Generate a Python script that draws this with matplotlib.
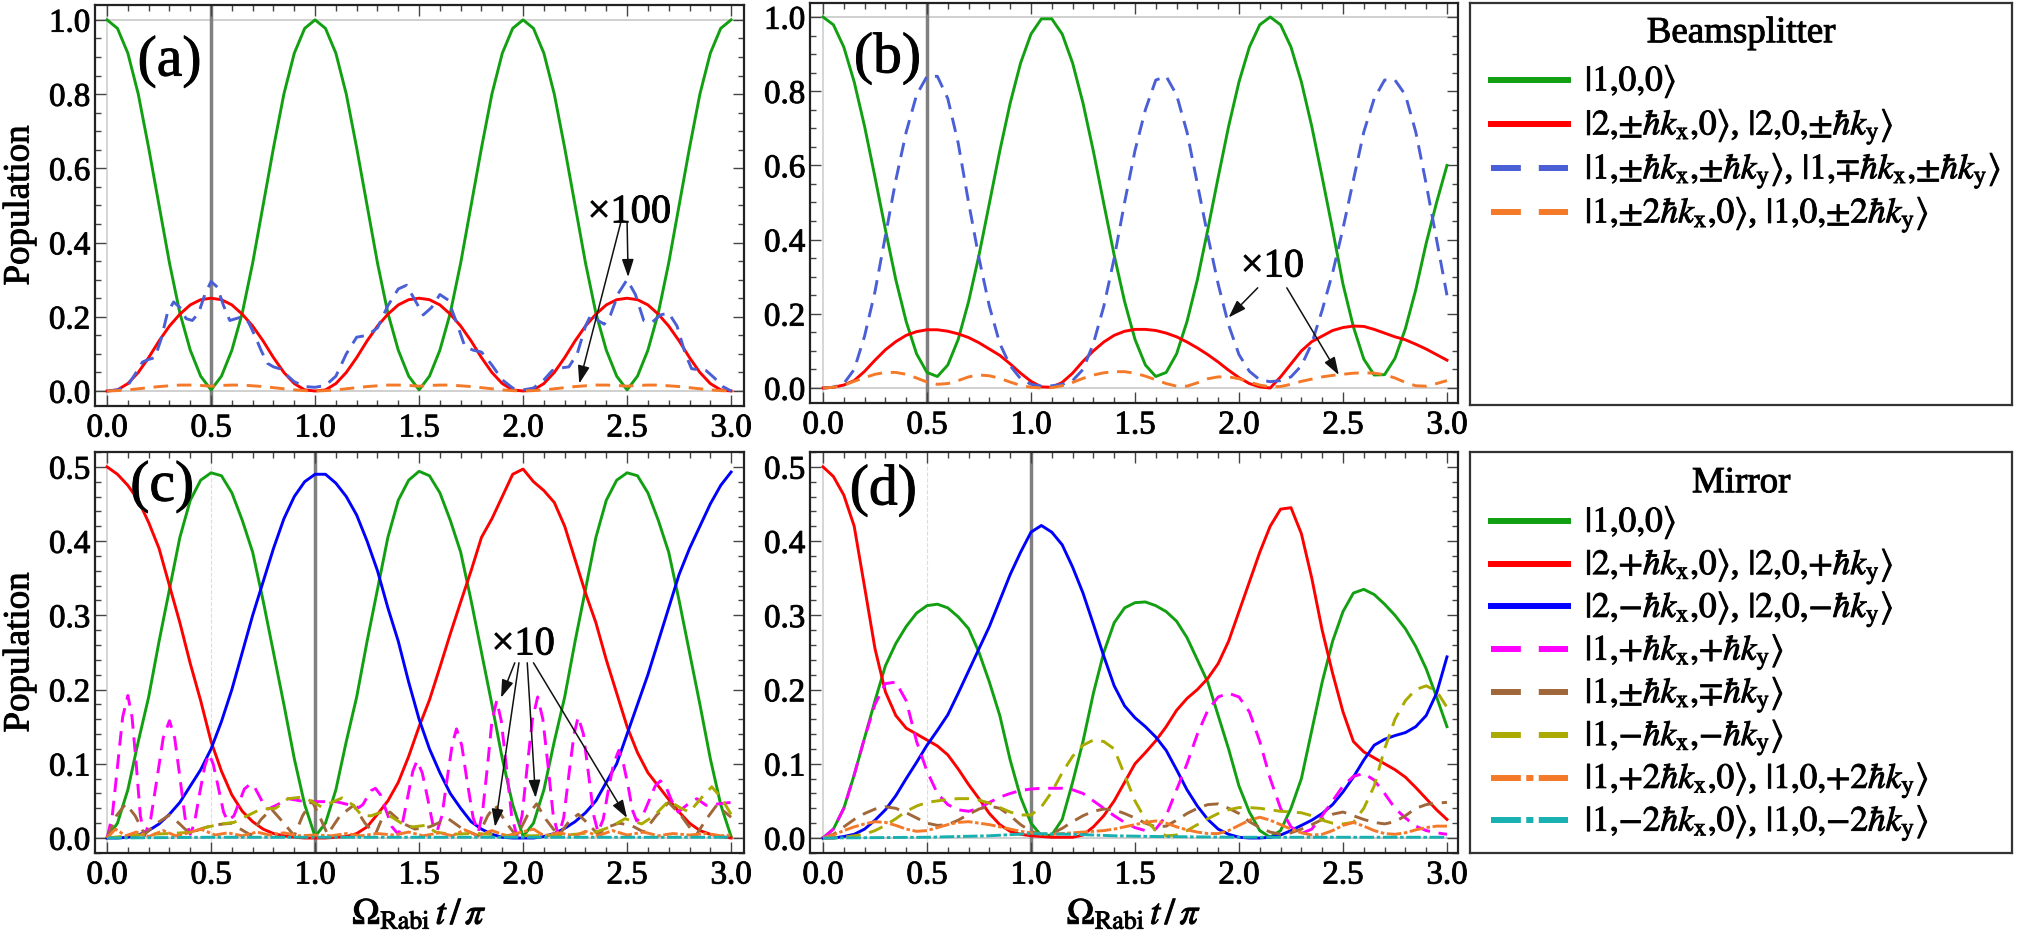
import numpy as np
import matplotlib
matplotlib.use("Agg")
import matplotlib.pyplot as plt
from matplotlib import patheffects
from matplotlib.lines import Line2D
from matplotlib.ticker import MultipleLocator, FormatStrFormatter

plt.rcParams['font.family'] = ['Liberation Serif', 'DejaVu Serif']
plt.rcParams['mathtext.fontset'] = 'stix'

# common time grid, Omega_Rabi t / pi
t = np.arange(61) * 0.05

# ---------------- (a) beamsplitter, pulse 1 ----------------
green_a = [1.0, 0.977, 0.91, 0.80, 0.655, 0.50, 0.345, 0.21, 0.11, 0.04,
           0.003, 0.04, 0.11, 0.21, 0.345, 0.50, 0.655, 0.80, 0.91, 0.977,
           1.0, 0.977, 0.91, 0.80, 0.655, 0.50, 0.345, 0.21, 0.11, 0.04,
           0.003, 0.04, 0.11, 0.21, 0.345, 0.50, 0.655, 0.80, 0.91, 0.977,
           1.0, 0.977, 0.91, 0.80, 0.655, 0.50, 0.345, 0.21, 0.11, 0.04,
           0.003, 0.04, 0.11, 0.21, 0.345, 0.50, 0.655, 0.80, 0.91, 0.977,
           1.0]
red_a = [0.0, 0.003, 0.02, 0.05, 0.09, 0.135, 0.175, 0.207, 0.232, 0.246,
         0.25, 0.246, 0.232, 0.207, 0.175, 0.135, 0.09, 0.05, 0.02, 0.003,
         0.0, 0.003, 0.02, 0.05, 0.09, 0.135, 0.175, 0.207, 0.232, 0.246,
         0.25, 0.246, 0.232, 0.207, 0.175, 0.135, 0.09, 0.05, 0.02, 0.003,
         0.0, 0.003, 0.02, 0.05, 0.09, 0.135, 0.175, 0.207, 0.232, 0.246,
         0.25, 0.246, 0.232, 0.207, 0.175, 0.135, 0.09, 0.05, 0.02, 0.003,
         0.0]
orange_a = [0.0, 0.001, 0.003, 0.006, 0.009, 0.012, 0.014, 0.016, 0.016, 0.015,
            0.013, 0.015, 0.016, 0.016, 0.014, 0.012, 0.009, 0.006, 0.003, 0.001,
            0.0, 0.001, 0.003, 0.006, 0.009, 0.012, 0.014, 0.016, 0.016, 0.015,
            0.013, 0.015, 0.016, 0.016, 0.014, 0.012, 0.009, 0.006, 0.003, 0.001,
            0.0, 0.001, 0.003, 0.006, 0.009, 0.012, 0.014, 0.016, 0.016, 0.015,
            0.013, 0.015, 0.016, 0.016, 0.014, 0.012, 0.009, 0.006, 0.003, 0.001,
            0.0]
t_blue_a = [0, 0.05, 0.1, 0.14, 0.17, 0.2, 0.23, 0.26, 0.29, 0.32, 0.35, 0.38, 0.41,
            0.44, 0.47, 0.5, 0.53, 0.56, 0.59, 0.62, 0.65, 0.68, 0.71, 0.74, 0.77,
            0.8, 0.83, 0.86, 0.9, 0.95, 1.0,
            1.05, 1.1, 1.15, 1.2, 1.25, 1.3, 1.35, 1.4, 1.44, 1.48, 1.52, 1.56, 1.6,
            1.64, 1.68, 1.72, 1.76, 1.8, 1.85, 1.9, 1.95, 2.0,
            2.05, 2.1, 2.14, 2.18, 2.22, 2.26, 2.3, 2.33, 2.36, 2.39, 2.42, 2.46, 2.5,
            2.54, 2.58, 2.62, 2.66, 2.7, 2.74, 2.78, 2.81, 2.85, 2.88, 2.92, 2.96, 3.0]
blue_a = [0, 0.003, 0.015, 0.05, 0.078, 0.085, 0.09, 0.14, 0.21, 0.24, 0.225, 0.195, 0.19,
          0.21, 0.26, 0.295, 0.28, 0.23, 0.19, 0.195, 0.2, 0.185, 0.15, 0.11, 0.075,
          0.065, 0.06, 0.045, 0.025, 0.012, 0.01,
          0.015, 0.04, 0.1, 0.145, 0.15, 0.17, 0.23, 0.275, 0.285, 0.245, 0.205, 0.225, 0.26,
          0.245, 0.185, 0.12, 0.11, 0.105, 0.07, 0.03, 0.008, 0.003,
          0.008, 0.03, 0.055, 0.062, 0.065, 0.1, 0.175, 0.21, 0.19, 0.18, 0.205, 0.265, 0.30,
          0.26, 0.19, 0.185, 0.205, 0.21, 0.175, 0.1, 0.06, 0.057, 0.055, 0.035, 0.012, 0.0]

# ---------------- (b) beamsplitter, pulse 2 ----------------
green_b = [1.0, 0.979, 0.919, 0.825, 0.705, 0.568, 0.427, 0.292, 0.179, 0.092,
           0.042, 0.031, 0.062, 0.131, 0.233, 0.358, 0.498, 0.639, 0.768, 0.876,
           0.954, 0.995, 0.995, 0.954, 0.876, 0.768, 0.638, 0.497, 0.358, 0.233,
           0.131, 0.062, 0.031, 0.042, 0.092, 0.179, 0.292, 0.427, 0.568, 0.705,
           0.825, 0.919, 0.979, 1.0, 0.979, 0.919, 0.825, 0.705, 0.568, 0.427,
           0.28, 0.165, 0.078, 0.035, 0.036, 0.08, 0.16, 0.265, 0.39, 0.5,
           0.6]
red_b = [0.0, 0.002, 0.008, 0.02, 0.045, 0.075, 0.103, 0.125, 0.142, 0.152,
         0.157, 0.157, 0.153, 0.146, 0.136, 0.122, 0.105, 0.088, 0.065, 0.04,
         0.018, 0.003, 0.002, 0.015, 0.04, 0.072, 0.1, 0.124, 0.142, 0.153,
         0.158, 0.158, 0.155, 0.148, 0.138, 0.124, 0.108, 0.09, 0.07, 0.048,
         0.028, 0.012, 0.003, 0.0, 0.03, 0.065, 0.1, 0.125, 0.14, 0.155,
         0.163, 0.167, 0.166, 0.158, 0.148, 0.138, 0.13, 0.118, 0.105, 0.09,
         0.075]
blue_b = [0.0, 0.002, 0.012, 0.05, 0.14, 0.26, 0.41, 0.56, 0.69, 0.79,
          0.84, 0.84, 0.78, 0.66, 0.5, 0.35, 0.22, 0.12, 0.06, 0.025,
          0.01, 0.005, 0.006, 0.01, 0.02, 0.05, 0.12, 0.22, 0.35, 0.5,
          0.64, 0.75, 0.83, 0.84, 0.79, 0.69, 0.55, 0.41, 0.28, 0.17,
          0.09, 0.045, 0.022, 0.017, 0.02, 0.03, 0.06, 0.12, 0.21, 0.31,
          0.43, 0.56, 0.69, 0.78, 0.83, 0.83, 0.79, 0.69, 0.55, 0.4,
          0.25]
orange_b = [0.0, 0.002, 0.008, 0.018, 0.028, 0.037, 0.042, 0.042, 0.037, 0.027,
            0.016, 0.01, 0.012, 0.02, 0.03, 0.035, 0.033, 0.026, 0.016, 0.007,
            0.002, 0.0, 0.001, 0.006, 0.015, 0.026, 0.035, 0.041, 0.044, 0.044,
            0.04, 0.032, 0.022, 0.012, 0.005, 0.005, 0.014, 0.025, 0.03, 0.03,
            0.025, 0.016, 0.008, 0.003, 0.004, 0.01, 0.018, 0.024, 0.03, 0.034,
            0.037, 0.04, 0.041, 0.04, 0.036, 0.027, 0.015, 0.006, 0.005, 0.012,
            0.02]

# ---------------- (c) mirror, pulse 1 ----------------
green_c = [0.0, 0.02, 0.065, 0.13, 0.19, 0.265, 0.335, 0.405, 0.455, 0.482,
           0.492, 0.488, 0.465, 0.428, 0.385, 0.32, 0.25, 0.18, 0.107, 0.045,
           0.002, 0.02, 0.065, 0.13, 0.19, 0.265, 0.335, 0.405, 0.455, 0.482,
           0.494, 0.488, 0.465, 0.428, 0.385, 0.32, 0.25, 0.18, 0.107, 0.045,
           0.002, 0.02, 0.065, 0.13, 0.19, 0.265, 0.335, 0.405, 0.455, 0.482,
           0.492, 0.488, 0.465, 0.428, 0.385, 0.32, 0.25, 0.18, 0.107, 0.045,
           0.002]
red_c = [0.5, 0.49, 0.475, 0.455, 0.425, 0.39, 0.34, 0.29, 0.235, 0.185,
         0.13, 0.09, 0.058, 0.036, 0.022, 0.012, 0.006, 0.003, 0.001, 0.0,
         0.0, 0.0, 0.001, 0.002, 0.006, 0.015, 0.032, 0.05, 0.075, 0.11,
         0.15, 0.186, 0.23, 0.275, 0.318, 0.36, 0.405, 0.43, 0.46, 0.49,
         0.497, 0.48, 0.468, 0.452, 0.42, 0.375, 0.33, 0.29, 0.24, 0.195,
         0.15, 0.115, 0.088, 0.07, 0.052, 0.035, 0.02, 0.01, 0.005, 0.002,
         0.0]
blue_c = [0.0, 0.0, 0.001, 0.004, 0.01, 0.019, 0.032, 0.048, 0.07, 0.092,
          0.12, 0.157, 0.2, 0.25, 0.3, 0.345, 0.39, 0.43, 0.46, 0.48,
          0.49, 0.49, 0.478, 0.46, 0.435, 0.4, 0.36, 0.31, 0.265, 0.21,
          0.16, 0.12, 0.088, 0.06, 0.04, 0.022, 0.012, 0.005, 0.001, 0.0,
          0.0, 0.0, 0.002, 0.006, 0.013, 0.022, 0.034, 0.05, 0.075, 0.1,
          0.14, 0.18, 0.22, 0.265, 0.31, 0.355, 0.39, 0.42, 0.45, 0.475,
          0.493]
t_mag_c = [0.0, 0.025, 0.05, 0.075, 0.10, 0.12, 0.14, 0.16, 0.18,
           0.21, 0.24, 0.27, 0.30, 0.325, 0.35, 0.375, 0.40,
           0.42, 0.445, 0.47, 0.49, 0.51, 0.535, 0.56, 0.58,
           0.61, 0.635, 0.66, 0.69, 0.71, 0.735, 0.755, 0.775,
           0.82, 0.87, 0.93, 0.98, 1.04, 1.10, 1.16, 1.21,
           1.23, 1.25, 1.27, 1.29, 1.315, 1.34, 1.37, 1.40,
           1.42, 1.445, 1.47, 1.49, 1.515, 1.54, 1.565, 1.585,
           1.61, 1.635, 1.66, 1.68, 1.705, 1.73, 1.76, 1.785,
           1.805, 1.83, 1.85, 1.873, 1.895, 1.92, 1.945, 1.97,
           1.995, 2.02, 2.045, 2.07, 2.095, 2.12, 2.145, 2.17,
           2.195, 2.22, 2.245, 2.265, 2.29, 2.315, 2.34, 2.36,
           2.385, 2.41, 2.435, 2.46, 2.48, 2.505, 2.525, 2.546,
           2.575, 2.605, 2.635, 2.66, 2.685, 2.715, 2.745,
           2.79, 2.835, 2.88, 2.94, 3.0]
mag_c = [0.0, 0.03, 0.096, 0.163, 0.192, 0.163, 0.1, 0.03, 0.003,
         0.026, 0.08, 0.135, 0.158, 0.135, 0.082, 0.027, 0.005,
         0.02, 0.06, 0.097, 0.113, 0.1, 0.068, 0.035, 0.023,
         0.03, 0.048, 0.066, 0.073, 0.068, 0.055, 0.044, 0.039,
         0.045, 0.053, 0.05, 0.049, 0.049, 0.049, 0.045, 0.041,
         0.045, 0.055, 0.064, 0.067, 0.058, 0.038, 0.015, 0.005,
         0.02, 0.055, 0.09, 0.104, 0.088, 0.055, 0.02, 0.008,
         0.03, 0.08, 0.127, 0.147, 0.125, 0.078, 0.027, 0.008,
         0.035, 0.1, 0.157, 0.185, 0.158, 0.095, 0.03, 0.003,
         0.03, 0.097, 0.16, 0.19, 0.16, 0.097, 0.03, 0.003,
         0.027, 0.085, 0.14, 0.163, 0.14, 0.085, 0.03, 0.008,
         0.025, 0.065, 0.1, 0.118, 0.103, 0.07, 0.038, 0.023,
         0.03, 0.05, 0.07, 0.077, 0.07, 0.05, 0.035,
         0.045, 0.053, 0.044, 0.046, 0.048]
t_brown_c = [0.0, 0.045, 0.09, 0.135, 0.18, 0.24, 0.30, 0.345, 0.39, 0.43,
             0.47, 0.53, 0.6, 0.63, 0.69, 0.74, 0.79, 0.85, 0.90, 0.94,
             0.985, 1.02, 1.06, 1.12, 1.185, 1.24, 1.29, 1.32, 1.36, 1.42,
             1.48, 1.55, 1.64, 1.71, 1.785, 1.83, 1.866, 1.92, 1.97, 2.02,
             2.065, 2.11, 2.17, 2.22, 2.265, 2.31, 2.36, 2.41, 2.46, 2.52,
             2.58, 2.64, 2.70, 2.76, 2.83, 2.88, 2.93, 2.97, 3.0]
brown_c = [0.0, 0.03, 0.046, 0.03, 0.005, 0.02, 0.031, 0.02, 0.008, 0.01,
           0.014, 0.018, 0.02, 0.014, 0.004, 0.025, 0.039, 0.02, 0.003, 0.03,
           0.05, 0.03, 0.005, 0.03, 0.044, 0.02, 0.005, 0.025, 0.035, 0.02,
           0.012, 0.015, 0.026, 0.012, 0.003, 0.03, 0.044, 0.02, 0.002, 0.03,
           0.046, 0.025, 0.003, 0.022, 0.032, 0.02, 0.005, 0.015, 0.02, 0.017,
           0.008, 0.03, 0.048, 0.03, 0.003, 0.025, 0.044, 0.035, 0.028]
t_olive_c = [0.0, 0.1, 0.2, 0.3, 0.42, 0.47, 0.55, 0.61, 0.66, 0.74,
             0.81, 0.87, 0.935, 0.98, 1.03, 1.08, 1.13, 1.18, 1.225, 1.27,
             1.32, 1.37, 1.42, 1.47, 1.53, 1.58, 1.65, 1.75, 1.85, 1.95,
             2.05, 2.15, 2.25, 2.35, 2.42, 2.49, 2.57, 2.63, 2.70, 2.76,
             2.80, 2.86, 2.907, 2.95, 3.0]
olive_c = [0.0, 0.003, 0.005, 0.006, 0.008, 0.014, 0.019, 0.021, 0.028, 0.039,
           0.04, 0.053, 0.055, 0.05, 0.042, 0.048, 0.054, 0.045, 0.03, 0.03,
           0.035, 0.028, 0.019, 0.015, 0.017, 0.008, 0.005, 0.006, 0.005, 0.003,
           0.003, 0.004, 0.005, 0.008, 0.015, 0.026, 0.019, 0.03, 0.05, 0.04,
           0.035, 0.055, 0.069, 0.055, 0.032]
t_orange_c = [0.0, 0.04, 0.09, 0.14, 0.2, 0.27, 0.33, 0.38, 0.45, 0.52,
              0.58, 0.65, 0.72, 0.78, 0.85, 0.92, 1.0, 1.08, 1.15, 1.22,
              1.3, 1.38, 1.45, 1.52, 1.6, 1.66, 1.72, 1.78, 1.85, 1.92,
              1.98, 2.05, 2.1, 2.17, 2.25, 2.3, 2.36, 2.43, 2.5, 2.58,
              2.65, 2.72, 2.8, 2.88, 2.95, 3.0]
orange_c = [0.0, 0.012, 0.003, 0.008, 0.002, 0.01, 0.003, 0.006, 0.012, 0.004,
            0.007, 0.003, 0.008, 0.004, 0.007, 0.003, 0.004, 0.003, 0.006, 0.003,
            0.006, 0.004, 0.008, 0.003, 0.007, 0.003, 0.011, 0.003, 0.01, 0.003,
            0.007, 0.012, 0.003, 0.007, 0.003, 0.009, 0.003, 0.01, 0.004, 0.008,
            0.003, 0.006, 0.004, 0.006, 0.003, 0.004]
t_teal_c = [0.0, 0.5, 1.0, 1.5, 2.0, 2.5, 3.0]
teal_c = [0.0, 0.001, 0.001, 0.001, 0.001, 0.001, 0.001]

# ---------------- (d) mirror, pulse 2 ----------------
red_d = [0.5, 0.487, 0.462, 0.42, 0.338, 0.255, 0.197, 0.165, 0.148, 0.14,
         0.132, 0.124, 0.112, 0.093, 0.072, 0.053, 0.033, 0.018, 0.009, 0.005,
         0.003, 0.002, 0.001, 0.001, 0.001, 0.004, 0.015, 0.03, 0.05, 0.075,
         0.1, 0.115, 0.131, 0.15, 0.172, 0.188, 0.2, 0.215, 0.235, 0.265,
         0.305, 0.345, 0.385, 0.42, 0.443, 0.445, 0.41, 0.35, 0.28, 0.222,
         0.17, 0.13, 0.116, 0.108, 0.1, 0.092, 0.082, 0.068, 0.053, 0.038,
         0.025]
green_d = [0.0, 0.012, 0.04, 0.085, 0.135, 0.185, 0.232, 0.262, 0.285, 0.303,
           0.313, 0.315, 0.31, 0.298, 0.282, 0.25, 0.21, 0.165, 0.105, 0.055,
           0.02, 0.003, 0.004, 0.025, 0.075, 0.13, 0.195, 0.25, 0.29, 0.31,
           0.317, 0.318, 0.313, 0.305, 0.292, 0.27, 0.24, 0.21, 0.165, 0.12,
           0.07, 0.035, 0.01, 0.001, 0.01, 0.04, 0.08, 0.145, 0.21, 0.265,
           0.305, 0.33, 0.335, 0.328, 0.315, 0.3, 0.282, 0.258, 0.228, 0.19,
           0.15]
blue_d = [0.0, 0.0, 0.002, 0.005, 0.012, 0.024, 0.038, 0.057, 0.08, 0.102,
          0.125, 0.145, 0.166, 0.195, 0.225, 0.255, 0.285, 0.32, 0.355, 0.385,
          0.412, 0.421, 0.412, 0.395, 0.365, 0.33, 0.288, 0.245, 0.205, 0.178,
          0.162, 0.15, 0.136, 0.118, 0.092, 0.065, 0.043, 0.025, 0.012, 0.005,
          0.001, 0.0, 0.0, 0.001, 0.004, 0.01, 0.017, 0.024, 0.033, 0.045,
          0.062, 0.082, 0.105, 0.125, 0.133, 0.138, 0.142, 0.15, 0.165, 0.195,
          0.244]
mag_d = [0.0, 0.012, 0.04, 0.085, 0.135, 0.18, 0.208, 0.21, 0.185, 0.13,
         0.09, 0.06, 0.045, 0.038, 0.036, 0.04, 0.048, 0.055, 0.06, 0.064,
         0.066, 0.067, 0.067, 0.067, 0.065, 0.06, 0.05, 0.04, 0.03, 0.021,
         0.014, 0.01, 0.012, 0.03, 0.065, 0.1, 0.14, 0.172, 0.19, 0.195,
         0.19, 0.17, 0.13, 0.08, 0.04, 0.015, 0.006, 0.012, 0.03, 0.05,
         0.07, 0.083, 0.087, 0.078, 0.06, 0.04, 0.027, 0.016, 0.01, 0.007,
         0.005]
brown_d = [0.0, 0.005, 0.015, 0.025, 0.033, 0.039, 0.042, 0.04, 0.034, 0.027,
           0.02, 0.017, 0.018, 0.024, 0.032, 0.039, 0.043, 0.04, 0.03, 0.018,
           0.009, 0.005, 0.006, 0.013, 0.022, 0.03, 0.036, 0.039, 0.038, 0.033,
           0.027, 0.02, 0.015, 0.016, 0.024, 0.033, 0.04, 0.045, 0.046, 0.04,
           0.033, 0.022, 0.014, 0.008, 0.005, 0.007, 0.012, 0.018, 0.025, 0.032,
           0.035, 0.03, 0.025, 0.021, 0.019, 0.022, 0.03, 0.04, 0.045, 0.047,
           0.048]
olive_d = [0.0, 0.0, 0.001, 0.003, 0.005, 0.01, 0.017, 0.026, 0.036, 0.043,
           0.048, 0.05, 0.052, 0.053, 0.053, 0.051, 0.047, 0.041, 0.035, 0.031,
           0.031, 0.042, 0.062, 0.088, 0.11, 0.125, 0.132, 0.13, 0.12, 0.085,
           0.05, 0.025, 0.01, 0.003, 0.004, 0.01, 0.018, 0.026, 0.033, 0.038,
           0.041, 0.041, 0.04, 0.038, 0.036, 0.035, 0.034, 0.03, 0.024, 0.02,
           0.019, 0.021, 0.04, 0.07, 0.12, 0.16, 0.185, 0.2, 0.205, 0.198,
           0.176]
orange_d = [0.0, 0.004, 0.01, 0.015, 0.019, 0.022, 0.021, 0.017, 0.012, 0.009,
            0.01, 0.014, 0.018, 0.021, 0.022, 0.02, 0.018, 0.015, 0.012, 0.009,
            0.007, 0.005, 0.005, 0.006, 0.007, 0.008, 0.009, 0.01, 0.012, 0.015,
            0.018, 0.021, 0.023, 0.02, 0.015, 0.011, 0.008, 0.006, 0.006, 0.01,
            0.017, 0.024, 0.028, 0.024, 0.018, 0.012, 0.007, 0.004, 0.005, 0.01,
            0.017, 0.021, 0.016, 0.01, 0.006, 0.005, 0.007, 0.011, 0.014, 0.016,
            0.016]
t_teal_d = [0.0, 0.5, 0.8, 1.0, 1.2, 1.4, 1.6, 2.0, 2.5, 3.0]
teal_d = [0.0, 0.001, 0.003, 0.006, 0.005, 0.003, 0.002, 0.001, 0.001, 0.001]

# kets, commas braced so mathtext adds no space after them
bs_labels = [r'$|1{,}0{,}0\rangle$',
             r'$|2{,}{\pm}\hbar k_{\rm x}{,}0\rangle$, $|2{,}0{,}{\pm}\hbar k_{\rm y}\rangle$',
             r'$|1{,}{\pm}\hbar k_{\rm x}{,}{\pm}\hbar k_{\rm y}\rangle$, $|1{,}{\mp}\hbar k_{\rm x}{,}{\pm}\hbar k_{\rm y}\rangle$',
             r'$|1{,}{\pm}2\hbar k_{\rm x}{,}0\rangle$, $|1{,}0{,}{\pm}2\hbar k_{\rm y}\rangle$']
mirror_labels = [r'$|1{,}0{,}0\rangle$',
                 r'$|2{,}{+}\hbar k_{\rm x}{,}0\rangle$, $|2{,}0{,}{+}\hbar k_{\rm y}\rangle$',
                 r'$|2{,}{-}\hbar k_{\rm x}{,}0\rangle$, $|2{,}0{,}{-}\hbar k_{\rm y}\rangle$',
                 r'$|1{,}{+}\hbar k_{\rm x}{,}{+}\hbar k_{\rm y}\rangle$',
                 r'$|1{,}{\pm}\hbar k_{\rm x}{,}{\mp}\hbar k_{\rm y}\rangle$',
                 r'$|1{,}{-}\hbar k_{\rm x}{,}{-}\hbar k_{\rm y}\rangle$',
                 r'$|1{,}{+}2\hbar k_{\rm x}{,}0\rangle$, $|1{,}0{,}{+}2\hbar k_{\rm y}\rangle$',
                 r'$|1{,}{-}2\hbar k_{\rm x}{,}0\rangle$, $|1{,}0{,}{-}2\hbar k_{\rm y}\rangle$']
XLABEL = r'$\Omega_{\rm Rabi}\,t\,/\,\pi$'

GREEN = '#12a012'
RED = '#ff0000'
BSBLUE = '#4a5ed6'
ORANGE = '#f47a2a'
BLUE = '#0000ff'
MAGENTA = '#ff00ff'
BROWN = '#a0673a'
OLIVE = '#aaaa00'
TEAL = '#18b0b0'
SOLID = '-'
DASH = (0, (5, 3))
DASHDOT = (0, (5, 0.9, 1.2, 0.9))

bs_styles = [(GREEN, SOLID), (RED, SOLID), (BSBLUE, DASH), (ORANGE, DASH)]
mirror_styles = [(GREEN, SOLID), (RED, SOLID), (BLUE, SOLID), (MAGENTA, DASH),
                 (BROWN, DASH), (OLIVE, DASH), (ORANGE, DASHDOT), (TEAL, DASHDOT)]

# the original text is set a little heavier than plain Liberation Serif
HEAVY = [patheffects.withStroke(linewidth=0.7, foreground='#111111')]

W, H = 2017, 938
fig = plt.figure(figsize=(W / 100, H / 100), dpi=100)
renderer = fig.canvas.get_renderer()


def fitted(text, target_px, base=20.0):
    # font size that gives the text the pixel width it has in the original
    probe = fig.text(0, 0, text, fontsize=base)
    w = probe.get_window_extent(renderer).width
    probe.remove()
    return base * target_px / w


TICK = fitted('0.0', 41)
YLAB = fitted('Population', 160)
XLAB = fitted(XLABEL, 135)
PANEL = fitted('(a)', 64)
NOTE = fitted('×100', 83)
TITLE = fitted('Beamsplitter', 189)
ENTRY = fitted(bs_labels[2], 416)


def px_axes(x0, y0, x1, y1):
    return fig.add_axes([x0 / W, 1 - y1 / H, (x1 - x0) / W, (y1 - y0) / H])


def frame(ax, xlim, ylim, ymajor, yminor, marker_x, mirror):
    ax.set_xlim(*xlim)
    ax.set_ylim(*ylim)
    ax.xaxis.set_major_locator(MultipleLocator(0.5))
    ax.xaxis.set_minor_locator(MultipleLocator(0.1))
    ax.yaxis.set_major_locator(MultipleLocator(ymajor))
    ax.yaxis.set_minor_locator(MultipleLocator(yminor))
    ax.xaxis.set_major_formatter(FormatStrFormatter('%.1f'))
    ax.yaxis.set_major_formatter(FormatStrFormatter('%.1f'))
    ax.tick_params(which='both', direction='in', top=True, right=True,
                   color='#444444', width=1.0)
    ax.tick_params(which='major', length=8, labelsize=TICK)
    ax.tick_params(which='minor', length=4.5)
    ax.tick_params(axis='x', pad=5)
    ax.tick_params(axis='y', pad=3.5)
    for s in ax.spines.values():
        s.set_linewidth(1.6)
        s.set_color('#222222')
    ax.axhline(0.0, color='#c8c8c8', lw=1.2, zorder=1)
    ax.axvline(0.0, color='#d0d0d0', lw=1.2, zorder=1)
    if mirror:
        ax.axvline(0.5, color='#dddddd', lw=0.8, ls='--', zorder=1)
    else:
        ax.axhline(1.0, color='#c8c8c8', lw=1.2, zorder=1)
    ax.axvline(marker_x, color='#808080', lw=2.5, zorder=1.5)


def curves(ax, series, styles):
    for (x, y), (c, ls) in zip(series, styles):
        ax.plot(x, y, color=c, ls=ls, lw=2.1, zorder=2,
                solid_joinstyle='round', dash_joinstyle='round')


def note(ax, text, pos, arrows):
    ax.text(pos[0], pos[1], text, fontsize=NOTE, ha='center', va='center', zorder=5,
            path_effects=HEAVY)
    for start, tip in arrows:
        ax.annotate('', xy=tip, xytext=start, zorder=5,
                    arrowprops=dict(arrowstyle='-|>,head_length=0.6,head_width=0.2',
                                    color='#111111', lw=1.1, mutation_scale=18,
                                    shrinkA=0, shrinkB=0))


XL_L = (-0.058, 3.062)
XL_R = (-0.0625, 3.053)

ax_a = px_axes(95, 5, 744, 406)
frame(ax_a, XL_L, (-0.0404, 1.040), 0.2, 0.05, 0.5, False)
curves(ax_a, [(t, green_a), (t, red_a), (t_blue_a, blue_a), (t, orange_a)], bs_styles)
ax_a.text(0.30, 0.887, '(a)', fontsize=PANEL, ha='center', va='center', path_effects=HEAVY)
note(ax_a, '×100', (2.51, 0.48), [((2.47, 0.455), (2.27, 0.02)), ((2.50, 0.455), (2.505, 0.307))])
ax_a.set_ylabel('Population', fontsize=YLAB, labelpad=9, path_effects=HEAVY)

ax_b = px_axes(810, 3, 1458, 403)
frame(ax_b, XL_R, (-0.0404, 1.0377), 0.2, 0.05, 0.5, False)
curves(ax_b, [(t, green_b), (t, red_b), (t, blue_b), (t, orange_b)], bs_styles)
ax_b.text(0.31, 0.888, '(b)', fontsize=PANEL, ha='center', va='center', path_effects=HEAVY)
note(ax_b, '×10', (2.16, 0.326), [((2.09, 0.27), (1.95, 0.19)), ((2.23, 0.27), (2.48, 0.035))])

ax_c = px_axes(95, 452, 744, 853)
frame(ax_c, XL_L, (-0.0202, 0.520), 0.1, 0.02, 1.0, True)
curves(ax_c, [(t, green_c), (t, red_c), (t, blue_c), (t_mag_c, mag_c), (t_brown_c, brown_c),
              (t_olive_c, olive_c), (t_orange_c, orange_c), (t_teal_c, teal_c)], mirror_styles)
ax_c.text(0.265, 0.473, '(c)', fontsize=PANEL, ha='center', va='center', path_effects=HEAVY)
note(ax_c, '×10', (2.0, 0.26), [((1.96, 0.236), (1.894, 0.189)), ((1.98, 0.236), (1.865, 0.015)),
                                ((2.02, 0.236), (2.06, 0.054)), ((2.05, 0.236), (2.5, 0.027))])
ax_c.set_ylabel('Population', fontsize=YLAB, labelpad=9, path_effects=HEAVY)
ax_c.set_xlabel(XLABEL, fontsize=XLAB, labelpad=5, path_effects=HEAVY)

ax_d = px_axes(810, 452, 1458, 853)
frame(ax_d, XL_R, (-0.0202, 0.520), 0.1, 0.02, 1.0, True)
curves(ax_d, [(t, green_d), (t, red_d), (t, blue_d), (t, mag_d), (t, brown_d),
              (t, olive_d), (t, orange_d), (t_teal_d, teal_d)], mirror_styles)
ax_d.text(0.29, 0.468, '(d)', fontsize=PANEL, ha='center', va='center', path_effects=HEAVY)
ax_d.set_xlabel(XLABEL, fontsize=XLAB, labelpad=5, path_effects=HEAVY)


def legend_box(y0, y1, title, title_y, first_row, row_step, labels, styles):
    # legend panel laid out in figure pixels (y grows downward)
    lax = px_axes(1470, y0, 2012, y1)
    lax.set_xlim(1470, 2012)
    lax.set_ylim(y1, y0)
    lax.set_xticks([])
    lax.set_yticks([])
    for s in lax.spines.values():
        s.set_linewidth(1.6)
        s.set_color('#333333')
    lax.text(1741, title_y, title, fontsize=TITLE, ha='center', va='center',
             path_effects=HEAVY)
    shift = 0.3 * ENTRY * 100 / 72
    for i, (lab, (c, ls)) in enumerate(zip(labels, styles)):
        y = first_row + i * row_step
        lax.add_line(Line2D([1491, 1568], [y, y], color=c, ls=ls, lw=4.3))
        lax.text(1585, y + shift, lab, fontsize=ENTRY, ha='left', va='baseline',
                 path_effects=HEAVY)


legend_box(3, 405, 'Beamsplitter', 33, 80, 44, bs_labels, bs_styles)
legend_box(452, 853, 'Mirror', 483, 521, 42.75, mirror_labels, mirror_styles)

# heavier tick labels, set once the ticks exist
fig.canvas.draw()
for ax in (ax_a, ax_b, ax_c, ax_d):
    for lab in ax.get_xticklabels() + ax.get_yticklabels():
        lab.set_path_effects(HEAVY)

fig.savefig('out.png', dpi=100, facecolor='white')
